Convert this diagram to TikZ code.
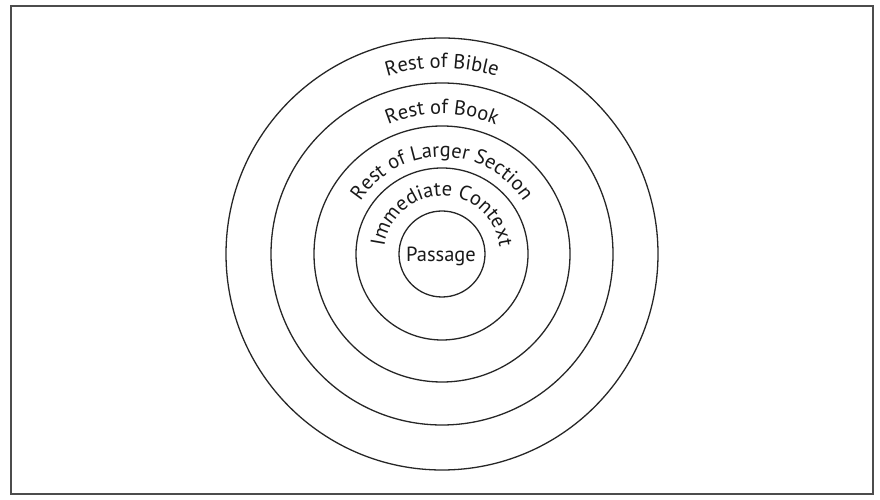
\documentclass[tikz,border=0pt]{standalone}
\usepackage{fontspec}
\setmainfont{PT Sans}
\usetikzlibrary{decorations.text}
\newcommand\ringfont{\fontsize{20.5pt}{23pt}\selectfont}
\tikzset{
  ring/.style={draw=black!85, line width=1.3pt},
  frame/.style={draw=black!70, line width=1.5pt},
  ringlabel/.style={decorate, decoration={text along path, text align=center, text color=black!90, text={|\ringfont|#1}}}
}
\begin{document}
\begin{tikzpicture}[x=1pt,y=1pt]
\useasboundingbox (0,0) rectangle (880,500);
\draw[frame] (11,6) rectangle (873,494);
\coordinate (c) at (442,246);
\foreach \r in {43,86,128,171,216} {
  \draw[ring] (c) circle[radius=\r];
}
\path[ringlabel={Rest of Bible}] (c) ++(180:186) arc[start angle=180, end angle=0, radius=186];
\path[ringlabel={Rest of Book}] (c) ++(180:140) arc[start angle=180, end angle=0, radius=140];
\path[ringlabel={Rest of Larger Section}] (c) ++(180:97) arc[start angle=180, end angle=0, radius=97];
\path[ringlabel={Immediate Context}] (c) ++(180:58) arc[start angle=180, end angle=0, radius=58];
\node[anchor=base, text=black!90, font=\ringfont, inner sep=0pt] (passage) at (441,238) {Passage};
\end{tikzpicture}
\end{document}
